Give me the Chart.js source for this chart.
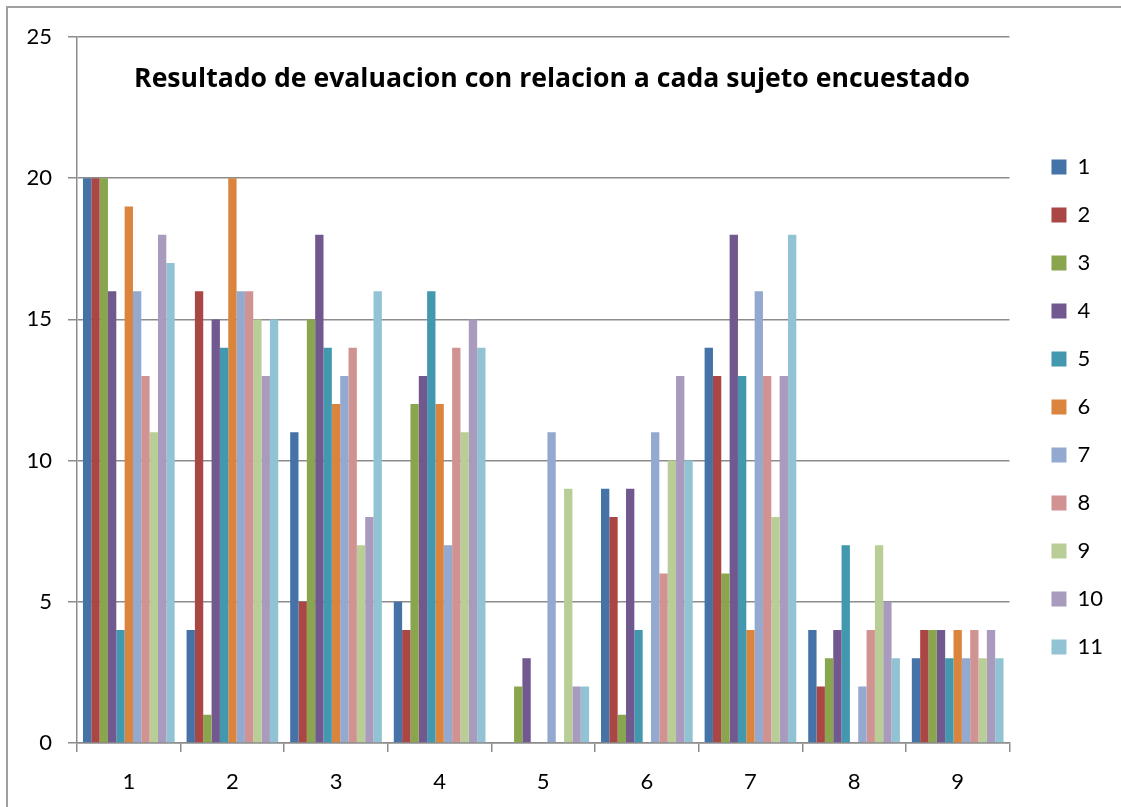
<!DOCTYPE html>
<html>
<head>
<meta charset="utf-8">
<script src="https://cdn.jsdelivr.net/npm/chart.js@4/dist/chart.umd.min.js"></script>
<style>
  body { margin: 0; background: #fff; overflow: hidden; }
  #wrap { position: relative; width: 1121px; height: 807px; overflow: hidden; }
  #frame { position: absolute; left: 6px; top: 6px; width: 1200px; height: 900px;
           border-left: 2px solid #a0a0a0; border-top: 2px solid #a0a0a0; }
  canvas { position: absolute; left: 0; top: 0; }
</style>
</head>
<body>
<div id="wrap">
  <div id="frame"></div>
  <canvas id="chart" width="1113" height="807"></canvas>
</div>
<script>
// categories (subjects) and the 11 series
const categories = ["1", "2", "3", "4", "5", "6", "7", "8", "9"];
const seriesNames = ["1", "2", "3", "4", "5", "6", "7", "8", "9", "10", "11"];
const yTicks = [0, 5, 10, 15, 20, 25];

const s1  = [20, 4, 11, 5, 0, 9, 14, 4, 3];
const s2  = [20, 16, 5, 4, 0, 8, 13, 2, 4];
const s3  = [20, 1, 15, 12, 2, 1, 6, 3, 4];
const s4  = [16, 15, 18, 13, 3, 9, 18, 4, 4];
const s5  = [4, 14, 14, 16, 0, 4, 13, 7, 3];
const s6  = [19, 20, 12, 12, 0, 0, 4, 0, 4];
const s7  = [16, 16, 13, 7, 11, 11, 16, 2, 3];
const s8  = [13, 16, 14, 14, 0, 6, 13, 4, 4];
const s9  = [11, 15, 7, 11, 9, 10, 8, 7, 3];
const s10 = [18, 13, 8, 15, 2, 13, 13, 5, 4];
const s11 = [17, 15, 16, 14, 2, 10, 18, 3, 3];

const allSeries = [s1, s2, s3, s4, s5, s6, s7, s8, s9, s10, s11];
const colors = ["#4572A7", "#AA4643", "#89A54E", "#71588F", "#4198AF", "#DB843D",
                "#93A9CF", "#D19392", "#B9CD96", "#A99BBD", "#92C3D4"];

const titleText = "Resultado de evaluacion con relacion a cada sujeto encuestado";

const datasets = allSeries.map(function (vals, i) {
  return {
    label: seriesNames[i],
    data: vals,
    backgroundColor: colors[i],
    borderWidth: 0,
    categoryPercentage: 0.885,
    barPercentage: 1.0
  };
});

// title drawn inside the plot area, like the original
const innerTitle = {
  id: "innerTitle",
  afterDraw: function (chart) {
    const ctx = chart.ctx;
    ctx.save();
    ctx.font = "bold 24px 'Open Sans'";
    let w = ctx.measureText(titleText).width;
    let size = Math.max(18, Math.min(28, 24 * 835 / w));
    ctx.font = "bold " + size.toFixed(1) + "px 'Open Sans'";
    ctx.fillStyle = "#000";
    ctx.textAlign = "center";
    ctx.textBaseline = "middle";
    ctx.fillText(titleText, 552, 79);
    ctx.restore();
  }
};

const gridGray = "#8c8c8c";
const tickFont = { family: "Lato", size: 22 };

new Chart(document.getElementById("chart").getContext("2d"), {
  type: "bar",
  data: { labels: categories, datasets: datasets },
  plugins: [innerTitle],
  options: {
    responsive: false,
    animation: false,
    layout: { padding: { left: 0, right: 0, top: 7, bottom: 0 } },
    plugins: {
      title: { display: false },
      tooltip: { enabled: false },
      legend: {
        position: "right",
        labels: {
          boxWidth: 15,
          boxHeight: 15,
          padding: 26,
          color: "#000",
          font: tickFont
        }
      }
    },
    scales: {
      x: {
        afterFit: function (scale) { scale.height = 64; },
        grid: { offset: true, drawOnChartArea: false, drawTicks: true, tickLength: 9, color: gridGray, lineWidth: 1.5 },
        border: { color: gridGray, width: 1.5 },
        ticks: { color: "#000", padding: 17, font: tickFont }
      },
      topSpacer: {
        type: "category",
        position: "top",
        display: true,
        afterFit: function (scale) { scale.height = 30; },
        grid: { display: false },
        border: { display: false },
        ticks: { display: false }
      },
      y: {
        min: 0,
        max: 25,
        afterFit: function (scale) { scale.width = 77; },
        afterBuildTicks: function (scale) {
          scale.ticks = yTicks.map(function (v) { return { value: v }; });
        },
        grid: { color: gridGray, lineWidth: 1.5, tickLength: 9 },
        border: { color: gridGray, width: 1.5 },
        ticks: { color: "#000", padding: 16, font: tickFont }
      },
      rightSpacer: {
        position: "right",
        display: true,
        afterFit: function (scale) { scale.width = 16; },
        grid: { display: false },
        border: { display: false },
        ticks: { display: false }
      }
    }
  }
});
</script>
</body>
</html>
